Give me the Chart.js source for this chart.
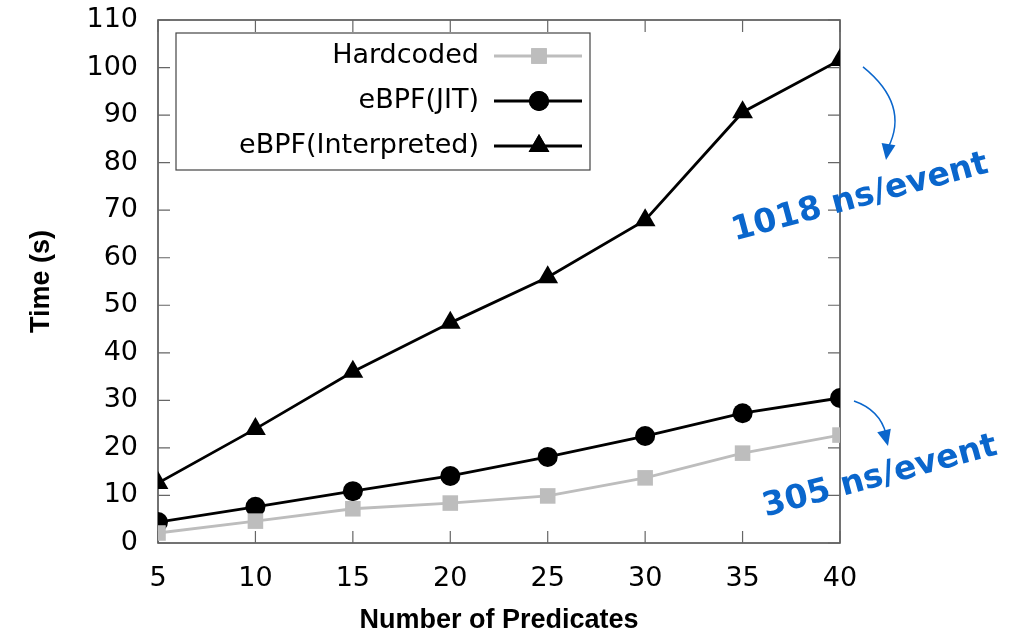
<!DOCTYPE html>
<html>
<head>
<meta charset="utf-8">
<script src="https://cdn.jsdelivr.net/npm/chart.js@4.4.1/dist/chart.umd.min.js"></script>
<style>
  html, body { margin: 0; padding: 0; background: #fff; }
  #wrap { width: 1019px; height: 637px; }
</style>
</head>
<body>
<div id="wrap"><canvas id="chart"></canvas></div>
<script>
let predicates = [5, 10, 15, 20, 25, 30, 35, 40];
let hardcoded = [2.1, 4.6, 7.2, 8.4, 9.9, 13.7, 18.9, 22.7];
let jit = [4.4, 7.6, 10.9, 14.1, 18.1, 22.5, 27.3, 30.5];
let interpreted = [12.6, 24.0, 36.0, 46.3, 55.9, 67.9, 90.6, 101.6];
let seriesNames = ['Hardcoded', 'eBPF(JIT)', 'eBPF(Interpreted)'];
let notes = ['1018 ns/event', '305 ns/event'];

let toXY = arr => arr.map((v, i) => ({ x: predicates[i], y: v }));

// gnuplot style frame with inward ticks on all four sides
let framePlugin = {
    id: 'frame',
    beforeDatasetsDraw(chart) {
        let ctx = chart.ctx, a = chart.chartArea;
        let xs = chart.scales.x, ys = chart.scales.y;
        ctx.save();
        ctx.strokeStyle = '#444';
        ctx.lineWidth = 1.5;
        ctx.strokeRect(a.left, a.top, a.right - a.left, a.bottom - a.top);
        ctx.lineWidth = 1.2;
        ctx.strokeStyle = '#666';
        ys.ticks.forEach(t => {
            let y = ys.getPixelForValue(t.value);
            ctx.beginPath();
            ctx.moveTo(a.left, y); ctx.lineTo(a.left + 12, y);
            ctx.moveTo(a.right, y); ctx.lineTo(a.right - 12, y);
            ctx.stroke();
        });
        xs.ticks.forEach(t => {
            let x = xs.getPixelForValue(t.value);
            ctx.beginPath();
            ctx.moveTo(x, a.bottom); ctx.lineTo(x, a.bottom - 12);
            ctx.moveTo(x, a.top); ctx.lineTo(x, a.top + 12);
            ctx.stroke();
        });
        ctx.restore();
    }
};

// legend box like gnuplot: text right aligned, sample line with marker
let keyPlugin = {
    id: 'key',
    afterDraw(chart) {
        let ctx = chart.ctx, a = chart.chartArea;
        let bx = a.left + 18, by = a.top + 13, bw = 414, bh = 137;
        ctx.save();
        ctx.fillStyle = '#fff';
        ctx.fillRect(bx, by, bw, bh);
        ctx.strokeStyle = '#444';
        ctx.lineWidth = 1.2;
        ctx.strokeRect(bx, by, bw, bh);
        ctx.font = '27px "DejaVu Sans"';
        ctx.textAlign = 'right';
        ctx.textBaseline = 'middle';
        chart.data.datasets.forEach((ds, i) => {
            let y = by + 23 + i * 45;
            ctx.fillStyle = '#000';
            ctx.fillText(ds.label, bx + 303, y);
            ctx.strokeStyle = ds.borderColor;
            ctx.lineWidth = ds.borderWidth;
            ctx.beginPath();
            ctx.moveTo(bx + 318, y); ctx.lineTo(bx + 406, y);
            ctx.stroke();
            ctx.fillStyle = ds.pointBackgroundColor;
            ctx.beginPath();
            Chart.helpers.drawPoint(ctx, {
                pointStyle: ds.pointStyle, radius: ds.pointRadius, rotation: 0,
                borderWidth: 0
            }, bx + 363, y);
            ctx.fill();
        });
        ctx.restore();
    }
};

// blue hand-drawn notes with curved arrows next to the last points
let notesPlugin = {
    id: 'notes',
    afterDraw(chart) {
        let ctx = chart.ctx;
        let xs = chart.scales.x, ys = chart.scales.y;
        let last = predicates.length - 1;
        let anchors = [
            { x: xs.getPixelForValue(predicates[last]), y: ys.getPixelForValue(interpreted[last]) },
            { x: xs.getPixelForValue(predicates[last]), y: ys.getPixelForValue(jit[last]) }
        ];
        let blue = '#0a66cc';
        ctx.save();
        ctx.strokeStyle = blue;
        ctx.fillStyle = blue;
        ctx.lineWidth = 1.5;
        // arrow 1
        let p = anchors[0];
        ctx.beginPath();
        ctx.moveTo(p.x + 23, p.y + 7);
        ctx.quadraticCurveTo(p.x + 70, p.y + 45, p.x + 48, p.y + 88);
        ctx.stroke();
        arrowHead(ctx, p.x + 46, p.y + 100, Math.PI * 0.55);
        // arrow 2
        p = anchors[1];
        ctx.beginPath();
        ctx.moveTo(p.x + 14, p.y + 3);
        ctx.quadraticCurveTo(p.x + 40, p.y + 12, p.x + 46, p.y + 36);
        ctx.stroke();
        arrowHead(ctx, p.x + 48, p.y + 48, Math.PI * 0.42);

        ctx.font = 'bold 33px "DejaVu Sans"';
        ctx.textAlign = 'center';
        ctx.textBaseline = 'middle';
        let pos = [
            { x: anchors[0].x + 20, y: anchors[0].y + 138 },
            { x: anchors[1].x + 40, y: anchors[1].y + 79 }
        ];
        notes.forEach((t, i) => {
            ctx.save();
            ctx.translate(pos[i].x, pos[i].y);
            ctx.rotate(-15 * Math.PI / 180);
            ctx.fillText(t, 0, 0);
            ctx.restore();
        });
        ctx.restore();
    }
};

function arrowHead(ctx, x, y, ang) {
    ctx.save();
    ctx.translate(x, y);
    ctx.rotate(ang);
    ctx.beginPath();
    ctx.moveTo(0, 0);
    ctx.lineTo(-16, -7);
    ctx.lineTo(-16, 7);
    ctx.closePath();
    ctx.fill();
    ctx.restore();
}

let ctx = document.getElementById('chart').getContext('2d');
new Chart(ctx, {
    type: 'scatter',
    data: {
        datasets: [{
            label: seriesNames[0],
            data: toXY(hardcoded),
            showLine: true,
            borderColor: '#bdbdbd',
            borderWidth: 2.8,
            pointStyle: 'rect',
            pointRadius: 11,
            pointBackgroundColor: '#bdbdbd',
            pointBorderWidth: 0
        }, {
            label: seriesNames[1],
            data: toXY(jit),
            showLine: true,
            borderColor: '#000',
            borderWidth: 2.8,
            pointStyle: 'circle',
            pointRadius: 10,
            pointBackgroundColor: '#000',
            pointBorderWidth: 0
        }, {
            label: seriesNames[2],
            data: toXY(interpreted),
            showLine: true,
            borderColor: '#000',
            borderWidth: 2.8,
            pointStyle: 'triangle',
            pointRadius: 12,
            pointBackgroundColor: '#000',
            pointBorderWidth: 0
        }]
    },
    options: {
        responsive: true,
        maintainAspectRatio: false,
        animation: false,
        layout: { padding: { left: 0, right: 179, top: 20, bottom: 0 } },
        plugins: {
            legend: { display: false },
            tooltip: { enabled: false }
        },
        scales: {
            x: {
                type: 'linear',
                min: 5,
                max: 40,
                grid: { display: false, drawTicks: false },
                border: { display: false },
                ticks: {
                    stepSize: 5,
                    padding: 20,
                    color: '#000',
                    font: { family: 'DejaVu Sans', size: 27 }
                },
                title: {
                    display: true,
                    text: 'Number of Predicates',
                    color: '#000',
                    padding: { top: 16, bottom: 0 },
                    font: { family: 'Liberation Sans', size: 27, weight: 'bold' }
                },
                afterFit(scale) {
                    scale.height = 94;
                    scale.paddingLeft = 0;
                    scale.paddingRight = 0;
                }
            },
            y: {
                min: 0,
                max: 110,
                grid: { display: false, drawTicks: false },
                border: { display: false },
                ticks: {
                    stepSize: 10,
                    padding: 20,
                    color: '#000',
                    font: { family: 'DejaVu Sans', size: 27 }
                },
                title: {
                    display: true,
                    text: 'Time (s)',
                    color: '#000',
                    padding: { top: 25, bottom: 0 },
                    font: { family: 'Liberation Sans', size: 27, weight: 'bold' }
                },
                afterFit(scale) {
                    scale.width = 158;
                    scale.paddingTop = 0;
                    scale.paddingBottom = 0;
                }
            }
        }
    },
    plugins: [framePlugin, keyPlugin, notesPlugin]
});
</script>
</body>
</html>
